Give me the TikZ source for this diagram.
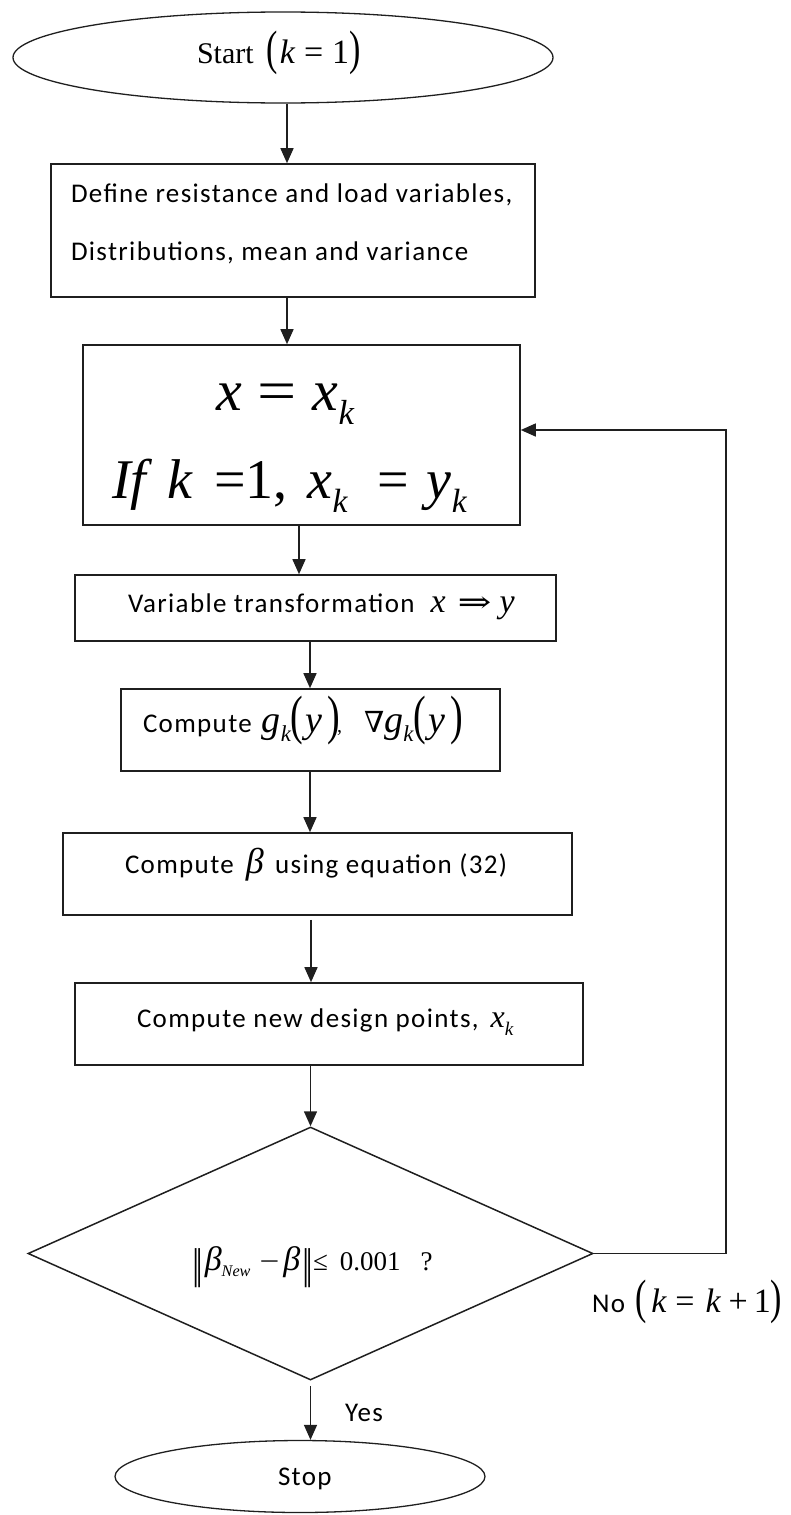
\documentclass[tikz,border=0pt]{standalone}
\usepackage{fontspec}
\usepackage{graphicx}
\setmainfont{Carlito}[LetterSpace=5]
\newfontfamily\tnr{Liberation Serif}
\newfontfamily\dvs{DejaVu Serif}
\usetikzlibrary{arrows.meta,shapes.geometric}

% italic math letter, small lowered subscript, tall parenthesis, norm bar, wide sign, font size
\newcommand\iv[1]{{\tnr\itshape #1}}
\newcommand\sbk[1]{\raisebox{-0.25em}{\scalebox{0.6}{\tnr\itshape #1}}}
\newcommand\tpar[1]{\raisebox{-0.05em}{\scalebox{1}[1.42]{\tnr #1}}}
\newcommand\nbar{\raisebox{-0.32em}{\scalebox{0.8}[1.45]{\dvs ‖}}}
\newcommand\wide[2]{\scalebox{#1}[1]{#2}}
\newcommand\setsz[1]{\fontsize{#1}{#1}\selectfont}

\begin{document}
\begin{tikzpicture}[x=1pt,y=-1pt,
  ink/.style={draw=black!88},
  box/.style={ink, line width=1.6pt, rectangle, inner sep=0pt},
  oval/.style={ink, line width=1.3pt, ellipse, inner sep=0pt},
  rhomb/.style={ink, line width=1.5pt, diamond, inner sep=0pt},
  arr/.style={ink, line width=1.5pt, -{Triangle[length=15pt,width=13pt]}},
  lbl/.style={inner sep=0pt, outer sep=0pt, anchor=base west},
]
\useasboundingbox (0,0) rectangle (791,1515);

% shapes
\node[oval, minimum width=540pt, minimum height=91pt] (start) at (283,57.5) {};
\node[box, minimum width=484pt, minimum height=133pt] (b1) at (293,230.5) {};
\node[box, minimum width=437pt, minimum height=180pt] (b2) at (301.5,435) {};
\node[box, minimum width=481pt, minimum height=66pt] (b3) at (315.5,608) {};
\node[box, minimum width=379pt, minimum height=82pt] (b4) at (310.5,730) {};
\node[box, minimum width=509pt, minimum height=82pt] (b5) at (317.5,874) {};
\node[box, minimum width=508pt, minimum height=82pt] (b6) at (329,1024) {};
\node[rhomb, minimum width=565pt, minimum height=253pt] (dia) at (310.5,1253.5) {};
\node[oval, minimum width=370pt, minimum height=72pt] (stop) at (300,1476.5) {};

% texts
\node[lbl] (tstart) at (197,63) {\tnr\setsz{30}Start\hspace{13pt}{\setsz{34}\tpar{(}\hspace{2pt}\iv{k}\hspace{9pt}=\hspace{9pt}1\tpar{)}}};
\node[lbl] (t1a) at (71,202) {\setsz{27}Define resistance and load variables,};
\node[lbl] (t1b) at (71,260) {\setsz{27}Distributions, mean and variance};
\node[lbl] (t2a) at (216,410) {\tnr\setsz{58}\iv{x}\hspace{16pt}\wide{1.2}{=}\hspace{16pt}\iv{x}\sbk{k}};
\node[lbl] (t2b) at (112,498) {\tnr\setsz{56}\iv{If}\hspace{21pt}\iv{k}\hspace{22pt}=1,\hspace{20pt}\iv{x}\sbk{k}\hspace{30pt}=\hspace{18pt}\iv{y}\sbk{k}};
\node[lbl] (t3) at (128,612) {\setsz{27}Variable transformation\hspace{16pt}{\tnr\setsz{34}\iv{x}\hspace{12pt}{\dvs\setsz{30}\wide{1.35}{⇒}}\hspace{8pt}\iv{y}}};
\node[lbl] (t4) at (143,732) {\setsz{27}Compute\hspace{10pt}{\tnr\setsz{38}\iv{g}\sbk{k}\tpar{(}\hspace{2pt}\iv{y}\hspace{5pt}\tpar{)}\hspace{-3pt}{\setsz{20},}\hspace{22pt}{\dvs\setsz{29}∇}\iv{g}\sbk{k}\tpar{(}\hspace{2pt}\iv{y}\hspace{5pt}\tpar{)}}};
\node[lbl] (t5) at (125,873) {\setsz{27}Compute\hspace{12pt}{\tnr\setsz{36}\iv{β}}\hspace{4pt} using equation (32)};
\node[lbl] (t6) at (137,1027) {\setsz{27}Compute new design points,\hspace{12pt}{\tnr\setsz{32}\iv{x}\sbk{k}}};
\node[lbl] (t7) at (192,1270) {\tnr\setsz{27}\nbar\hspace{2pt}{\setsz{34}\iv{β}}\sbk{New}\hspace{9pt}\wide{1.3}{−}\hspace{4pt}{\setsz{34}\iv{β}}\hspace{2pt}\nbar≤\hspace{12pt}0.001\hspace{20pt}?};
\node[lbl] (tyes) at (345,1421) {\setsz{27}Yes};
\node[lbl] (tstop) at (278,1485) {\setsz{27}Stop};
\node[lbl] (tno) at (592,1312) {\setsz{27}No\hspace{10pt}{\tnr\setsz{34}\tpar{(}\hspace{5pt}\iv{k}\hspace{9pt}=\hspace{11pt}\iv{k}\hspace{8pt}+\hspace{6pt}1\tpar{)}}};

% arrow columns
\coordinate (a1) at (287,0);
\coordinate (a2) at (299,0);
\coordinate (a3) at (310,0);
\coordinate (a4) at (311,0);
\coordinate (lp) at (726,430);

% connectors
\draw[arr] (start.south -| a1) -- (b1.north -| a1);
\draw[arr] (b1.south -| a1) -- (b2.north -| a1);
\draw[arr] (b2.south -| a2) -- (b3.north -| a2);
\draw[arr] (b3.south -| a3) -- (b4.north -| a3);
\draw[arr] (b4.south -| a3) -- (b5.north -| a3);
\draw[arr] ([yshift=-4pt]b5.south -| a4) -- (b6.north -| a4);
\draw[arr] (b6.south -| dia.north) -- (dia.north);
\draw[arr] ([yshift=-5pt]dia.south) -- (stop.north -| dia.south);
\draw[arr] (dia.east) -| (lp) -- (b2.east |- lp);
\end{tikzpicture}
\end{document}
